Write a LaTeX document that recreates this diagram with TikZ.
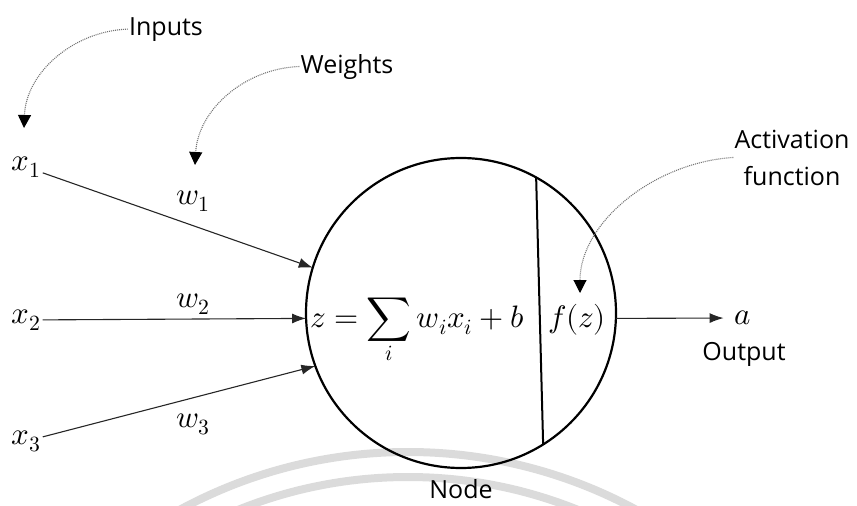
\documentclass[tikz,border=0pt]{standalone}
\usepackage{fontspec}
\usepackage{unicode-math}
\newfontfamily\labelfont{Open Sans}
\usetikzlibrary{arrows.meta, positioning}

\tikzset{
  mathlabel/.style={font=\fontsize{31}{35}\selectfont, inner sep=2pt},
  tagtext/.style={font=\labelfont\fontsize{25}{37}\selectfont, align=center, inner sep=1pt},
  neuronbody/.style={circle, draw, line width=2.2pt, minimum size=310pt, inner sep=0pt, outer sep=0pt},
  wire/.style={-{Latex[length=14pt,width=10pt]}, line width=1.1pt, color=black!85},
  pointer/.style={-{Triangle[length=13pt,width=13pt,color=black]}, dash pattern=on 1pt off 1pt, line width=1.1pt, color=black!55},
  watermark/.style={line width=8pt, color=black!14}
}

\begin{document}
\begin{tikzpicture}[x=1pt, y=-1pt]
  \useasboundingbox (0,0) rectangle (857,506);

  % faint rings at the bottom
  \begin{scope}
    \clip (0,0) rectangle (857,506);
    \draw[watermark] (408,931) circle[radius=479];
    \draw[watermark] (408,931) circle[radius=454];
  \end{scope}

  % the neuron
  \node[neuronbody] (neuron) at (461,313) {};
  \draw[line width=2pt] (neuron.61) -- (neuron.302);
  \node[mathlabel, anchor=base west] (sumz) at (308,327) {$z=\displaystyle\sum_i w_i x_i+b$};
  \node[mathlabel, anchor=base] (fz) at (577,327) {$f(z)$};

  % inputs and weights
  \node[mathlabel, anchor=base] (xone) at (26,170) {$x_1$};
  \node[mathlabel, anchor=base] (xtwo) at (26,323) {$x_2$};
  \node[mathlabel, anchor=base] (xthree) at (26,444) {$x_3$};
  \node[mathlabel, anchor=base] (wone) at (193,204) {$w_1$};
  \node[mathlabel, anchor=base] (wtwo) at (193,307) {$w_2$};
  \node[mathlabel, anchor=base] (wthree) at (193,427) {$w_3$};

  \draw[wire] (xone) -- (neuron.163);
  \draw[wire] (xtwo) -- (neuron.182);
  \draw[wire] (xthree) -- (neuron.200);

  % output
  \node[mathlabel] (aout) at (743,318) {$a$};
  \node[tagtext, anchor=base] (outtag) at (744,360) {Output};
  \draw[wire, shorten >=9pt] (neuron.-2) -- (aout.west);

  % callouts
  \node[tagtext, anchor=base] (inputs) at (166,35) {Inputs};
  \node[tagtext, anchor=base] (weights) at (347,73) {Weights};
  \node[tagtext, anchor=base] (actfn) at (792,185) {Activation\\function};
  \node[tagtext, anchor=base] (nodetag) at (461,498) {Node};

  \coordinate (xtip) at (24,128);
  \coordinate (wtip) at (195,165);
  \coordinate (ftip) at (580,293);
  \draw[pointer] (inputs.west) .. controls +(-55,2) and +(2,-55) .. (xtip);
  \draw[pointer] (weights.west) .. controls +(-55,2) and +(3,-55) .. (wtip);
  \draw[pointer] (actfn.west) .. controls +(-80,5) and +(0,-70) .. (ftip);
\end{tikzpicture}
\end{document}
